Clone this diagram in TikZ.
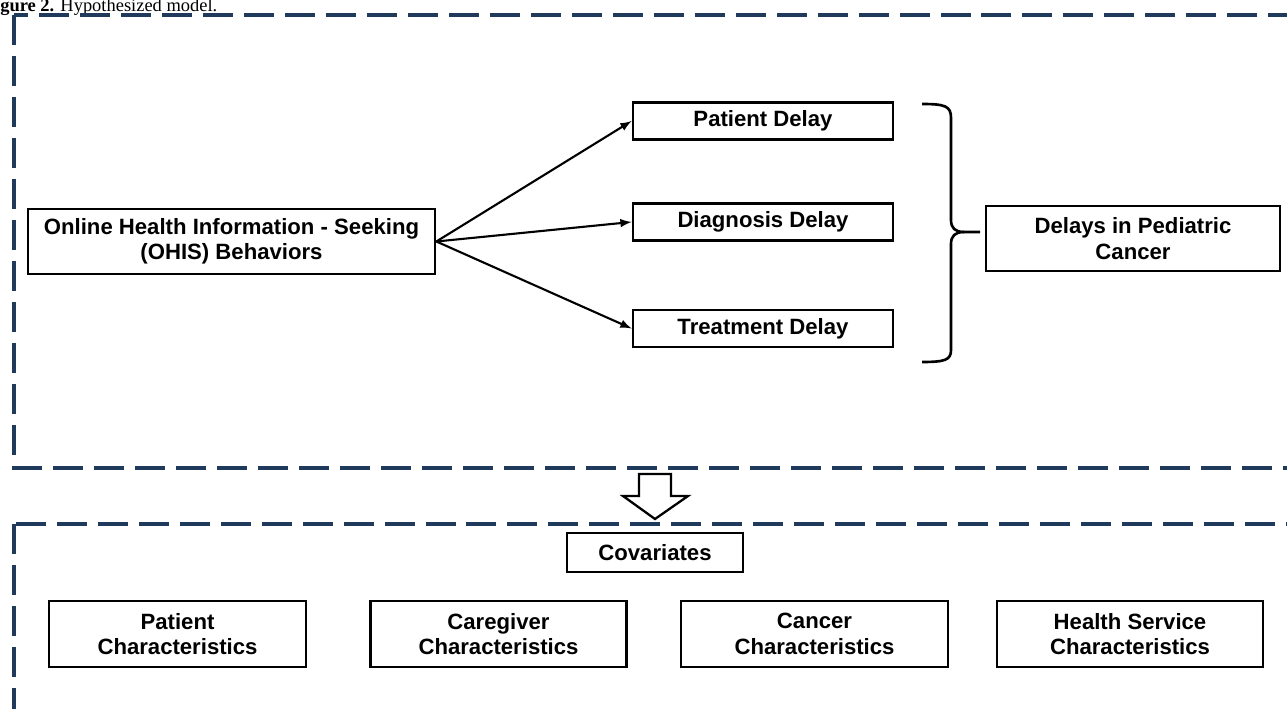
\documentclass[tikz,border=0pt]{standalone}
\usepackage{fontspec}
\setmainfont{Liberation Serif}
\newfontfamily\boxfont{Liberation Sans}
\usepackage{xcolor}
\definecolor{framenavy}{HTML}{1F3A5A}

\begin{document}
\begin{tikzpicture}[
    x=0.02cm,y=-0.02cm,
    every node/.style={font=\boxfont\bfseries\fontsize{12.6}{14.5}\selectfont},
    box/.style={rectangle,draw,line width=1.6pt,align=center,inner sep=2pt},
    delay/.style={box,minimum width=5.2cm,minimum height=0.74cm},
    covar/.style={box,minimum height=1.32cm},
    frame/.style={draw=framenavy,line width=2pt,dash pattern=on 0.6cm off 0.22cm},
    link/.style={->,>=latex,line width=1.2pt}
]
\useasboundingbox (0,0) rectangle (1287,709);

% Caption (cropped in the source)
\node[font=\fontsize{10.5}{12}\selectfont,anchor=base west,inner sep=0pt] (caption) at (0,12)
    {\textbf{gure 2.} Hypothesized model.};

% Dashed frames
\draw[frame] (14,15) rectangle (1310,468);
\draw[frame] (14,524) rectangle (1310,740);

% Node grid (absolute positions)
\node[box,minimum width=8.14cm,minimum height=1.3cm] (ohis) at (231.5,241.5)
    {Online Health Information - Seeking\\(OHIS) Behaviors};
\node[delay] (patient)   at (763,121)   {Patient Delay};
\node[delay] (diagnosis) at (763,222)   {Diagnosis Delay};
\node[delay] (treatment) at (763,328.5) {Treatment Delay};
\node[box,minimum width=5.88cm,minimum height=1.3cm] (delays) at (1133,238.5)
    {Delays in Pediatric\\Cancer};

% Covariates
\node[box,minimum width=3.52cm,minimum height=0.78cm] (covariates) at (655,552.5) {Covariates};
\node[covar,minimum width=5.14cm] (patchar)  at (177.5,634) {Patient\\Characteristics};
\node[covar,minimum width=5.12cm] (carechar) at (498.5,634) {Caregiver\\Characteristics};
\node[covar,minimum width=5.34cm] (cancchar) at (814.5,634) {Cancer\\Characteristics};
\node[covar,minimum width=5.32cm] (hschar)   at (1130,634)  {Health Service\\Characteristics};

% OHIS to delays
\draw[link] (ohis.east) -- (patient.west);
\draw[link] (ohis.east) -- (diagnosis.west);
\draw[link] (ohis.east) -- (treatment.west);

% Brace grouping the three delays
\draw[line width=1.5pt]
    (922,104) .. controls (945,104) and (951,106) .. (951,118) -- (951,220)
    .. controls (951,228) and (955,232) .. (964,232) -- (980,232);
\draw[line width=1.5pt]
    (964,232) .. controls (955,232) and (951,236) .. (951,244) -- (951,350)
    .. controls (951,360) and (945,362) .. (922,362);

% Hollow block arrow between frames
\draw[line width=1.3pt,fill=white,line join=miter]
    (639,474) -- (671,474) -- (671,496) -- (688,496) -- (655,519)
    -- (623,496) -- (639,496) -- cycle;

\end{tikzpicture}
\end{document}
